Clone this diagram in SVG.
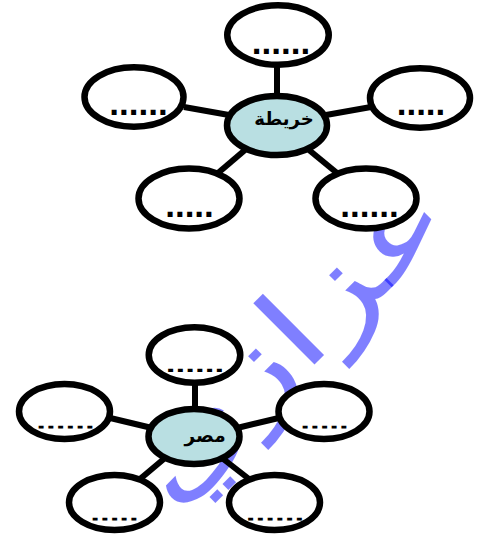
<svg xmlns="http://www.w3.org/2000/svg" width="481" height="539" viewBox="0 0 481 539">
<style>
.bg{fill:#ffffff}
.n{fill:#ffffff;stroke:#000000;stroke-width:6.5}
.c{fill:#b9dfe2;stroke:#000000;stroke-width:6.5}
.e{stroke:#000000;stroke-width:6;fill:none}
.d{font-family:"Liberation Sans",Arial,sans-serif;font-weight:bold;font-size:35px;fill:#000000;text-anchor:middle}
.t{font-family:"DejaVu Sans",sans-serif;font-weight:bold;fill:#000000;text-anchor:middle}
.w{font-family:"DejaVu Sans",sans-serif;font-size:114px;fill:#0000ff;fill-opacity:0.5;text-anchor:middle}
</style>
<defs>
<clipPath id="cA"><rect x="0" y="300" width="481" height="72"/></clipPath>
<clipPath id="cB"><rect x="0" y="380" width="481" height="48.5"/></clipPath>
<clipPath id="cC"><rect x="0" y="470" width="481" height="50.5"/></clipPath>
</defs>
<rect class="bg" x="0" y="0" width="481" height="539"/>
<g id="watermark">
<text class="w" transform="translate(313,366) rotate(-45) scale(1.32,1)">عزازي</text>
</g>
<g id="connectors">
<line class="e" x1="277" y1="66" x2="277" y2="96"/>
<line class="e" x1="184" y1="107" x2="229" y2="115"/>
<line class="e" x1="326" y1="115" x2="371" y2="107"/>
<line class="e" x1="245" y1="150" x2="218" y2="173"/>
<line class="e" x1="309" y1="150" x2="337" y2="173"/>
<line class="e" x1="195" y1="380" x2="195" y2="410"/>
<line class="e" x1="106" y1="417" x2="152" y2="428"/>
<line class="e" x1="237" y1="428" x2="283" y2="417"/>
<line class="e" x1="165" y1="458" x2="140" y2="479"/>
<line class="e" x1="222" y1="458" x2="249" y2="479"/>
</g>
<g id="m1-top"><ellipse class="n" cx="278" cy="35" rx="50.75" ry="29.75"/><text class="d" x="281" y="53.5">......</text></g>
<g id="m1-left"><ellipse class="n" cx="134" cy="97" rx="49.5" ry="29.75"/><text class="d" x="138.5" y="115">......</text></g>
<g id="m1-right"><ellipse class="n" cx="420" cy="98" rx="50" ry="29.75"/><text class="d" x="421" y="115">.....</text></g>
<g id="m1-center"><ellipse class="c" cx="277" cy="125.5" rx="50" ry="29.5"/><text class="t" x="284" y="125" font-size="18">خريطة</text></g>
<g id="m1-bl"><ellipse class="n" cx="189" cy="198.5" rx="50.5" ry="30"/><text class="d" x="189.5" y="216.5">.....</text></g>
<g id="m1-br"><ellipse class="n" cx="366" cy="198.5" rx="50.5" ry="30"/><text class="d" x="369.5" y="216.5">......</text></g>
<g id="m2-top"><ellipse class="n" cx="194.5" cy="355" rx="45.75" ry="27.75"/><text class="d" x="195" y="374" clip-path="url(#cA)">......</text></g>
<g id="m2-left"><ellipse class="n" cx="64.5" cy="411.5" rx="45.5" ry="27.5"/><text class="d" x="65.5" y="430.5" clip-path="url(#cB)">......</text></g>
<g id="m2-right"><ellipse class="n" cx="324" cy="411.5" rx="45.5" ry="27.5"/><text class="d" x="324.5" y="430.5" clip-path="url(#cB)">.....</text></g>
<g id="m2-center"><ellipse class="c" cx="194" cy="436.5" rx="45.5" ry="27.5"/><text class="t" x="205" y="442" font-size="18.5">مصر</text></g>
<g id="m2-bl"><ellipse class="n" cx="114.5" cy="502.5" rx="45.5" ry="27.5"/><text class="d" x="114.5" y="522.5" clip-path="url(#cC)">.....</text></g>
<g id="m2-br"><ellipse class="n" cx="274.5" cy="502.5" rx="45.5" ry="27.5"/><text class="d" x="275" y="522.5" clip-path="url(#cC)">......</text></g>
</svg>
